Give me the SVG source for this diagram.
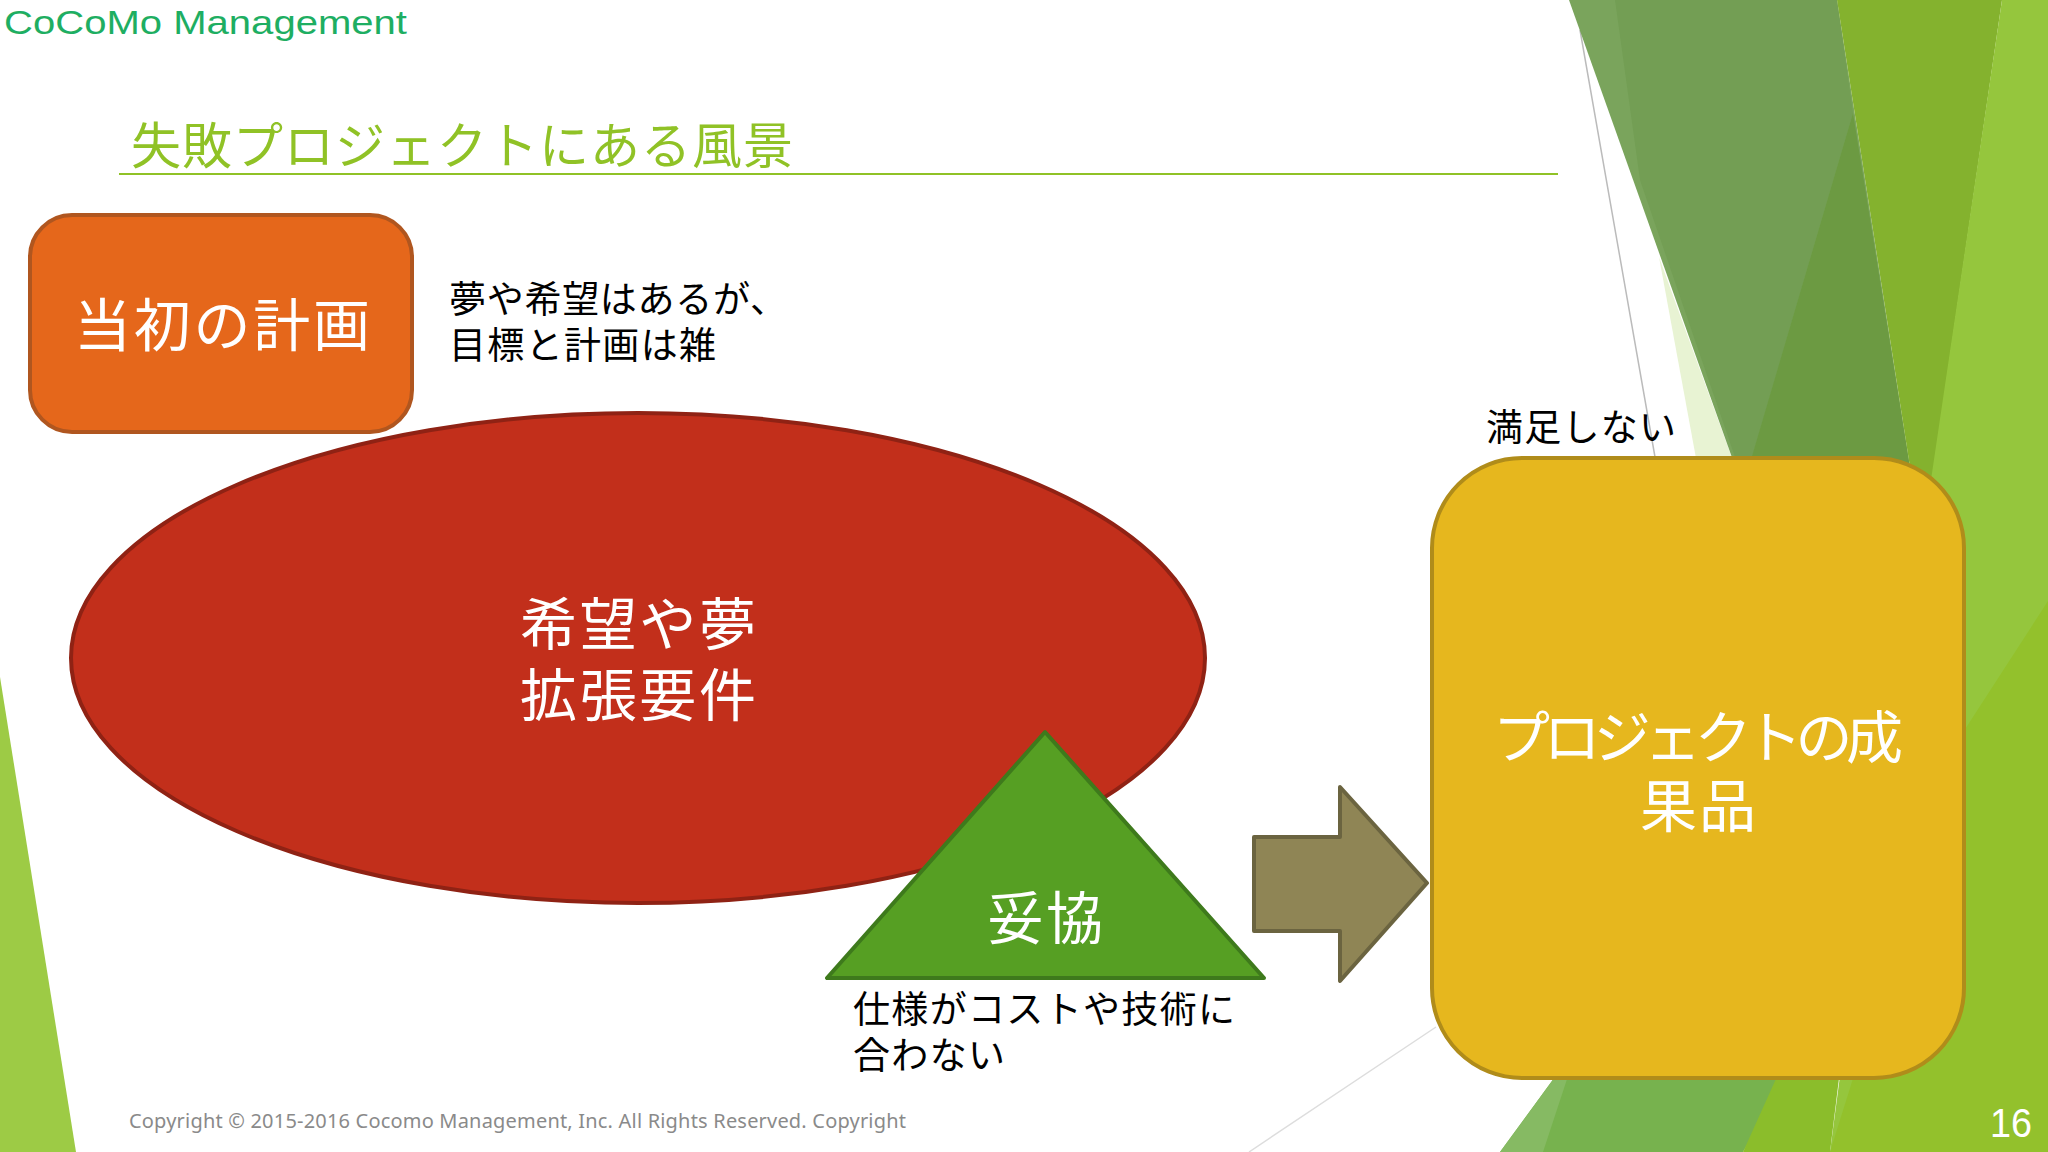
<svg xmlns="http://www.w3.org/2000/svg" width="2048" height="1152" viewBox="0 0 2048 1152">
<style>
text{font-family:"Noto Sans CJK JP","Noto Sans",sans-serif}
.w{fill:#fff;font-size:57px;text-anchor:middle}
.k{fill:#000;font-size:37px}
.n{stroke-width:4;stroke-linejoin:round}
</style>
<rect width="2048" height="1152" fill="#fff"/>
<g id="background">
<polygon points="0,677 76,1152 0,1152" fill="#9dcb45"/>
<polygon points="1659,257 1740,480 1700,480" fill="#e8f3d3"/>
<polygon points="1580,30 1655,457" fill="none" stroke="#bbb" stroke-width="1.5"/>
<polygon points="1249,1152 1436,1027" fill="none" stroke="#ddd" stroke-width="1.5"/>
<polygon points="1569,0 1837,0 1912,480 1740,480" fill="#7aa45c"/>
<polygon points="1615,0 1837,0 1853,113 1752,457 1735,457 1640,180" fill="#739e54"/>
<polygon points="1853,113 1912,480 1745,480" fill="#6c9a42"/>
<polygon points="1837,0 2002,0 1932,480 1912,480" fill="#84b22e"/>
<polygon points="2002,0 2048,0 2048,1152 1830,1152 1850,1000 1932,473" fill="#95c63d"/>
<polygon points="2048,601 1960,737 1830,1152 2048,1152" fill="#93c12c"/>
<polygon points="1560,1070 1790,1070 1743,1152 1500,1152" fill="#77b24e"/>
<polygon points="1560,1070 1570,1070 1543,1152 1500,1152" fill="#86ba63"/>
<polygon points="1780,1070 1840,1070 1830,1152 1743,1152" fill="#8bbd2b"/>
</g>
<g id="logo"><text x="4" y="34" font-size="33" textLength="403" lengthAdjust="spacingAndGlyphs" style="font-family:'Liberation Sans',sans-serif" fill="#1eae62">CoCoMo Management</text></g>
<g id="title"><text x="131" y="164" font-size="50" textLength="662" fill="#90c226">失敗プロジェクトにある風景</text>
<line x1="119" y1="174" x2="1558" y2="174" stroke="#90c226" stroke-width="2"/></g>
<g id="plan">
<rect class="n" x="30" y="215" width="382" height="217" rx="42" fill="#e5671b" stroke="#b0561f"/>
<text class="w" x="222" y="346" textLength="296">当初の計画</text>
</g>
<g id="plan-note">
<text class="k" x="449" y="313" textLength="338">夢や希望はあるが、</text>
<text class="k" x="449" y="359" textLength="267">目標と計画は雑</text>
</g>
<g id="hopes">
<ellipse class="n" cx="638" cy="658" rx="567" ry="245" fill="#c22f1b" stroke="#8f2214"/>
<text class="w" x="638" y="645" textLength="236">希望や夢</text>
<text class="w" x="638" y="716" textLength="236">拡張要件</text>
</g>
<g id="compromise">
<polygon class="n" points="1045,732 827,978 1264,978" fill="#569f23" stroke="#3e7a1c"/>
<text class="w" x="1045" y="939" textLength="116">妥協</text>
</g>
<g id="compromise-note">
<text class="k" x="853" y="1023" textLength="382">仕様がコストや技術に</text>
<text class="k" x="853" y="1069" textLength="152">合わない</text>
</g>
<g id="connectors">
<polygon class="n" points="1254,837 1340,837 1340,787 1427,883 1340,981 1340,931 1254,931" fill="#8f8555" stroke="#6b6440"/>
</g>
<g id="satisfaction-note"><text class="k" x="1486" y="441" textLength="190">満足しない</text></g>
<g id="deliverable">
<rect class="n" x="1432" y="458" width="532" height="620" rx="90" fill="#e6b71e" stroke="#b08c1a"/>
<text class="w" x="1698" y="758" textLength="410">プロジェクトの成</text>
<text class="w" x="1698" y="827" textLength="116">果品</text>
</g>
<g id="footer">
<text x="129" y="1128" font-size="20" textLength="777" fill="#8a8a8a" style="font-family:'Noto Sans',sans-serif">Copyright © 2015-2016 Cocomo Management, Inc. All Rights Reserved. Copyright</text>
<text x="1990" y="1137" font-size="41" textLength="42" lengthAdjust="spacingAndGlyphs" fill="#fff" style="font-family:'Liberation Sans',sans-serif">16</text>
</g>
</svg>
